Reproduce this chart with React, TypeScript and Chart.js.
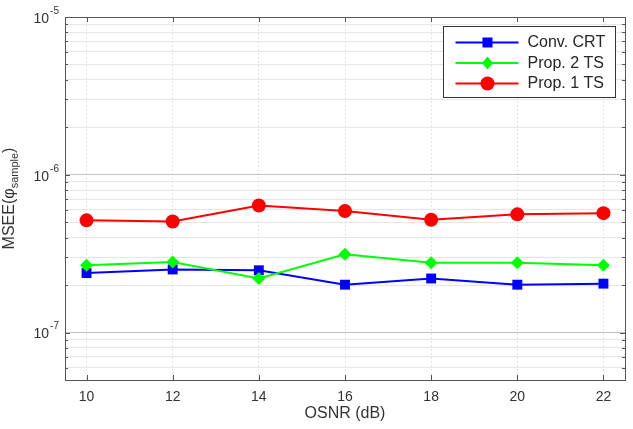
import { useEffect, useRef } from 'react';
import { Chart, registerables } from 'chart.js';

Chart.register(...registerables);

// ---- data ----
const osnr = [10, 12, 14, 16, 18, 20, 22];
const convCRT = [2.38e-7, 2.51e-7, 2.48e-7, 2.01e-7, 2.2e-7, 2.01e-7, 2.04e-7];
const prop2TS = [2.67e-7, 2.8e-7, 2.2e-7, 3.13e-7, 2.77e-7, 2.77e-7, 2.67e-7];
const prop1TS = [5.14e-7, 5.06e-7, 6.39e-7, 5.89e-7, 5.19e-7, 5.61e-7, 5.71e-7];
const seriesLabels = ['Conv. CRT', 'Prop. 2 TS', 'Prop. 1 TS'];
const seriesColors = ['#0000ff', '#00ff00', '#ff0000'];
const seriesMarkers = ['square', 'diamond', 'circle'];
const xTicks = [10, 12, 14, 16, 18, 20, 22];
const yMajorExponents = [-7, -6, -5];
const yMin = 5e-8;
const yMax = 1e-5;

const FONT = '"Liberation Sans", Arial, Helvetica, sans-serif';

function buildYTicks(): number[] {
  const out: number[] = [];
  for (let e = -8; e <= -6; e++) {
    for (let m = 1; m <= 9; m++) {
      const v = Number((m * Math.pow(10, e)).toPrecision(3));
      if (v >= yMin * 0.9999 && v <= yMax * 1.0001) out.push(v);
    }
  }
  out.push(yMax);
  return out;
}
const yTickValues = buildYTicks();
const isMajor = (v: number) => {
  const l = Math.log10(v);
  return Math.abs(l - Math.round(l)) < 1e-9;
};

function drawMarker(ctx: CanvasRenderingContext2D, kind: string, x: number, y: number, color: string) {
  ctx.fillStyle = color;
  ctx.beginPath();
  if (kind === 'square') {
    ctx.rect(x - 5, y - 5, 10, 10);
  } else if (kind === 'diamond') {
    ctx.moveTo(x, y - 6.5);
    ctx.lineTo(x + 5.5, y);
    ctx.lineTo(x, y + 6.5);
    ctx.lineTo(x - 5.5, y);
    ctx.closePath();
  } else {
    ctx.arc(x, y, 7, 0, Math.PI * 2);
  }
  ctx.fill();
}

const decorPlugin = {
  id: 'decor',
  afterDraw(chart: any) {
    const { ctx, chartArea: a, scales } = chart;
    const xs = scales.x;
    const ys = scales.y;
    ctx.save();

    // inward tick marks
    ctx.strokeStyle = '#555555';
    ctx.lineWidth = 1;
    ctx.beginPath();
    xTicks.forEach((t) => {
      const px = Math.round(xs.getPixelForValue(t)) + 0.5;
      ctx.moveTo(px, a.bottom);
      ctx.lineTo(px, a.bottom - 5);
      ctx.moveTo(px, a.top);
      ctx.lineTo(px, a.top + 5);
    });
    yTickValues.forEach((v) => {
      const py = Math.round(ys.getPixelForValue(v)) + 0.5;
      const len = isMajor(v) ? 5 : 3;
      ctx.moveTo(a.left, py);
      ctx.lineTo(a.left + len, py);
      ctx.moveTo(a.right, py);
      ctx.lineTo(a.right - len, py);
    });
    ctx.stroke();

    // axes box
    ctx.strokeStyle = '#555555';
    ctx.strokeRect(
      Math.round(a.left) + 0.5,
      Math.round(a.top) + 0.5,
      Math.round(a.right - a.left),
      Math.round(a.bottom - a.top)
    );

    // x tick labels
    ctx.fillStyle = '#333333';
    ctx.font = `14px ${FONT}`;
    ctx.textAlign = 'center';
    ctx.textBaseline = 'middle';
    xTicks.forEach((t) => ctx.fillText(String(t), xs.getPixelForValue(t), a.bottom + 17));

    // y tick labels 10^e
    yMajorExponents.forEach((e) => {
      const py = ys.getPixelForValue(Math.pow(10, e));
      const base = '10';
      const sup = String(e);
      ctx.font = `14px ${FONT}`;
      const wb = ctx.measureText(base).width;
      ctx.font = `10px ${FONT}`;
      const ws = ctx.measureText(sup).width;
      const right = a.left - 6;
      const xb = right - ws - wb - 1;
      ctx.textAlign = 'left';
      ctx.textBaseline = 'middle';
      ctx.font = `14px ${FONT}`;
      ctx.fillText(base, xb, py + 2);
      ctx.font = `10px ${FONT}`;
      ctx.fillText(sup, xb + wb + 1, py - 6);
    });

    // x title
    ctx.font = `16px ${FONT}`;
    ctx.textAlign = 'center';
    ctx.textBaseline = 'middle';
    ctx.fillText('OSNR (dB)', (a.left + a.right) / 2, a.bottom + 34);

    // y title with subscript
    const p1 = 'MSEE(\u03c6';
    const p2 = 'sample';
    const p3 = ')';
    ctx.font = `16px ${FONT}`;
    const w1 = ctx.measureText(p1).width;
    const w3 = ctx.measureText(p3).width;
    ctx.font = `11px ${FONT}`;
    const w2 = ctx.measureText(p2).width;
    const total = w1 + w2 + w3;
    ctx.translate(14, (a.top + a.bottom) / 2);
    ctx.rotate(-Math.PI / 2);
    ctx.textAlign = 'left';
    ctx.textBaseline = 'alphabetic';
    let cx = -total / 2;
    ctx.font = `16px ${FONT}`;
    ctx.fillText(p1, cx, 0);
    cx += w1;
    ctx.font = `11px ${FONT}`;
    ctx.fillText(p2, cx, 4);
    cx += w2;
    ctx.font = `16px ${FONT}`;
    ctx.fillText(p3, cx, 0);
    ctx.setTransform(1, 0, 0, 1, 0, 0);

    // legend
    const bx = Math.round(a.right - 10 - 172) + 0.5;
    const by = Math.round(a.top + 9) + 0.5;
    const bw = 172;
    const bh = 71;
    ctx.fillStyle = '#ffffff';
    ctx.fillRect(bx, by, bw, bh);
    ctx.strokeStyle = '#333333';
    ctx.lineWidth = 1;
    ctx.strokeRect(bx, by, bw, bh);
    seriesLabels.forEach((label, i) => {
      const ry = by + 16 + i * 20.5;
      ctx.strokeStyle = seriesColors[i];
      ctx.lineWidth = 2;
      ctx.beginPath();
      ctx.moveTo(bx + 12, ry);
      ctx.lineTo(bx + 75, ry);
      ctx.stroke();
      drawMarker(ctx, seriesMarkers[i], bx + 44, ry, seriesColors[i]);
      ctx.fillStyle = '#262626';
      ctx.font = `16px ${FONT}`;
      ctx.textAlign = 'left';
      ctx.textBaseline = 'middle';
      ctx.fillText(label, bx + 84, ry + 0.5);
    });

    ctx.restore();
  },
};

export default function App() {
  const ref = useRef<HTMLCanvasElement | null>(null);

  useEffect(() => {
    document.body.style.margin = '0';
    document.body.style.overflow = 'hidden';
    const canvas = ref.current;
    if (!canvas) return;
    const seriesData = [convCRT, prop2TS, prop1TS];
    const pointStyles = ['rect', 'rectRot', 'circle'];
    const radii = [7, 6.5, 7];
    const chart = new Chart(canvas, {
      type: 'line',
      data: {
        datasets: seriesData.map((vals, i) => ({
          label: seriesLabels[i],
          data: osnr.map((x, j) => ({ x, y: vals[j] })),
          borderColor: seriesColors[i],
          backgroundColor: seriesColors[i],
          pointBackgroundColor: seriesColors[i],
          pointBorderColor: seriesColors[i],
          pointBorderWidth: 0,
          pointStyle: pointStyles[i],
          pointRadius: radii[i],
          borderWidth: 2,
          tension: 0,
          order: 3 - i,
        })),
      },
      options: {
        animation: false,
        responsive: false,
        devicePixelRatio: 1,
        layout: { autoPadding: false, padding: { left: 0, right: 8, top: 17, bottom: 0 } },
        plugins: { legend: { display: false }, tooltip: { enabled: false }, title: { display: false } },
        events: [],
        scales: {
          x: {
            type: 'linear',
            min: 9.5,
            max: 22.5,
            afterBuildTicks: (scale: any) => {
              scale.ticks = xTicks.map((v) => ({ value: v }));
            },
            afterFit: (scale: any) => {
              scale.height = 49;
            },
            ticks: { display: false },
            grid: { color: '#e4e4e4', lineWidth: 1, drawTicks: false },
            border: { display: false, dash: [2, 2] },
          },
          y: {
            type: 'logarithmic',
            min: yMin,
            max: yMax,
            afterBuildTicks: (scale: any) => {
              scale.ticks = yTickValues.map((v) => ({ value: v, major: isMajor(v) }));
            },
            afterFit: (scale: any) => {
              scale.width = 65;
            },
            ticks: { display: false },
            grid: {
              drawTicks: false,
              lineWidth: 1,
              color: (c: any) => (c.tick && isMajor(c.tick.value) ? '#c4c4c4' : '#e6e6e6'),
            },
            border: { display: false },
          },
        },
      },
      plugins: [decorPlugin],
    } as any);
    return () => chart.destroy();
  }, []);

  return <canvas ref={ref} width={633} height={429} style={{ display: 'block' }} />;
}
